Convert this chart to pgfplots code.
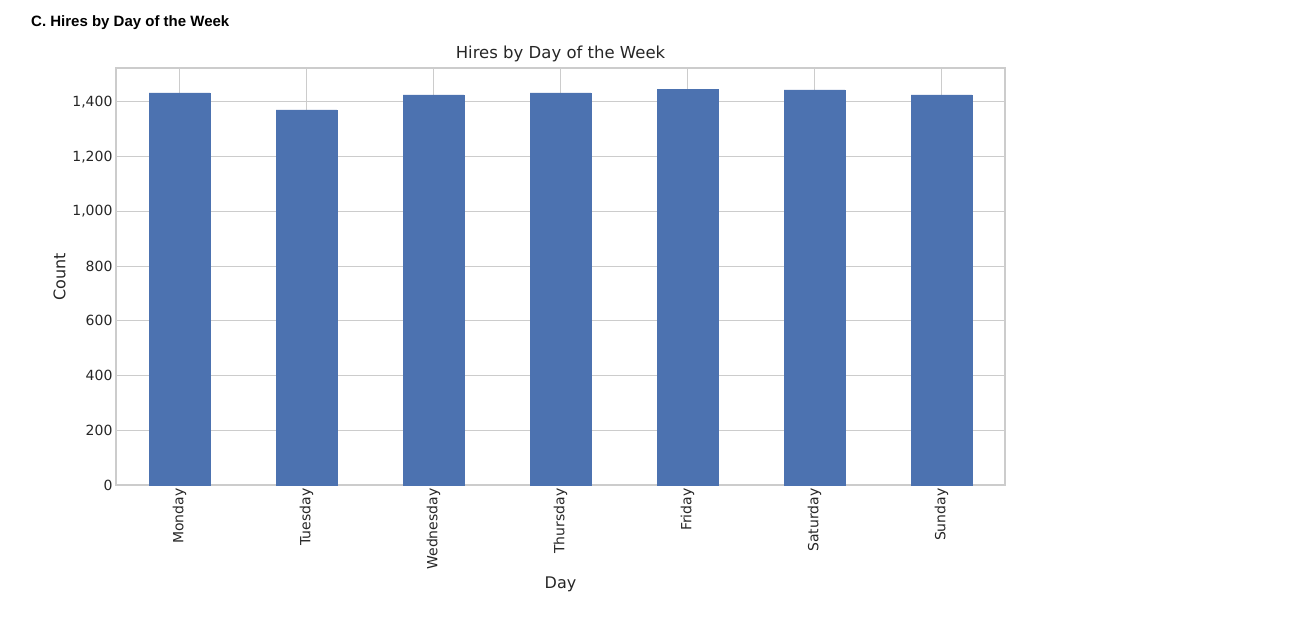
\documentclass[border=0pt]{standalone}
\usepackage{pgfplots}
\pgfplotsset{compat=1.18}
\usepackage{fontspec}
\setmainfont{DejaVu Sans}
\newfontfamily\hdr{Liberation Sans}
\definecolor{bar}{HTML}{4C72B0}
\definecolor{grd}{HTML}{CCCCCC}
\definecolor{txt}{HTML}{262626}
\begin{document}
\begin{tikzpicture}
\begin{axis}[at={(0pt,0pt)},anchor=south west,
 width=889pt,height=417pt,scale only axis,
 xmin=-0.5,xmax=6.5,ymin=0,ymax=1524,
 ybar,bar width=0.48,
 xtick={0,...,6},
 xticklabels={Monday,Tuesday,Wednesday,Thursday,Friday,Saturday,Sunday},
 x tick label style={rotate=90,anchor=east},
 ytick={0,200,...,1400},
 tick label style={font=\fontsize{14}{16}\selectfont,text=txt},
 /pgf/number format/assume math mode=true,
 grid=major,major grid style={grd,line width=1pt},
 axis line style={grd,line width=1.2pt},
 major tick length=0pt,
 xlabel={Day},ylabel={Count},
 label style={font=\fontsize{16}{18}\selectfont,text=txt},
 title={Hires by Day of the Week},
 title style={font=\fontsize{16.5}{18}\selectfont,text=txt,yshift=-3pt},
 ]
\addplot[fill=bar,draw=bar] coordinates {(0,1433)(1,1371)(2,1426)(3,1433)(4,1447)(5,1444)(6,1426)};
\end{axis}
\path[use as bounding box] (-116pt,-134pt) rectangle (1189pt,485pt);
\node[anchor=base west,font=\hdr\bfseries\fontsize{15}{17}\selectfont,text=black,inner sep=0] at (-85pt,458pt) {C. Hires by Day of the Week};
\end{tikzpicture}
\end{document}
